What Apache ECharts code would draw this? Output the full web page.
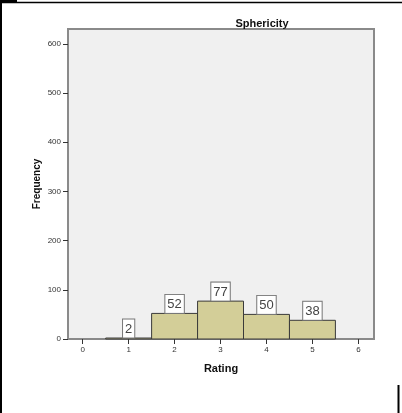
<!DOCTYPE html>
<html>
<head>
<meta charset="utf-8">
<script src="https://cdn.jsdelivr.net/npm/echarts@6/dist/echarts.min.js"></script>
<style>
  html, body { margin: 0; padding: 0; background: #fff; }
  #main { width: 402px; height: 413px; }
</style>
</head>
<body>
<div id="main"></div>
<script>
// histogram data
var ratings = [1, 2, 3, 4, 5];
var counts = [2, 52, 77, 50, 38];
var yTicks = [0, 100, 200, 300, 400, 500, 600];
var xTicks = [0, 1, 2, 3, 4, 5, 6];

var myChart = echarts.init(document.getElementById('main'));

var font = 'Liberation Sans, Arial, sans-serif';

var option = {
  backgroundColor: '#fff',
  animation: false,
  title: {
    text: 'Sphericity',
    left: 257,
    top: 13,
    textAlign: 'center',
    textStyle: { fontFamily: font, fontSize: 11, fontWeight: 'bold', color: '#111' }
  },
  grid: {
    left: 68, right: 28, top: 29, bottom: 74,
    show: true,
    backgroundColor: '#f0f0f0',
    borderColor: '#8a8a8a',
    borderWidth: 2
  },
  xAxis: {
    type: 'value',
    min: -0.32,
    max: 6.34,
    name: 'Rating',
    nameLocation: 'middle',
    nameGap: 24,
    nameTextStyle: { fontFamily: font, fontSize: 11, fontWeight: 'bold', color: '#111' },
    splitLine: { show: false },
    axisLine: { show: false, onZero: false },
    axisTick: { show: true, length: 5, customValues: xTicks, lineStyle: { color: '#333' } },
    axisLabel: { customValues: xTicks, fontFamily: font, fontSize: 8, color: '#333', margin: 7 }
  },
  yAxis: {
    type: 'value',
    min: 0,
    max: 630,
    splitLine: { show: false },
    axisLine: { show: false, onZero: false },
    axisTick: { show: true, length: 5, customValues: yTicks, lineStyle: { color: '#333' } },
    axisLabel: { customValues: yTicks, fontFamily: font, fontSize: 8, color: '#333', margin: 7 }
  },
  series: [{
    type: 'custom',
    data: ratings.map(function (r, i) { return [r, counts[i]]; }),
    renderItem: function (params, api) {
      var x = api.value(0), y = api.value(1);
      var p0 = api.coord([x - 0.5, y]);
      var p1 = api.coord([x + 0.5, 0]);
      return {
        type: 'rect',
        shape: { x: p0[0], y: p0[1], width: p1[0] - p0[0], height: p1[1] - p0[1] },
        style: { fill: '#d3ce98', stroke: '#3a3a3a', lineWidth: 1 },
        textContent: {
          style: {
            text: String(y),
            fontFamily: font,
            fontSize: 13,
            fill: '#444',
            backgroundColor: '#fff',
            borderColor: '#777',
            borderWidth: 1,
            padding: [3, 2, 2, 2]
          }
        },
        textConfig: { position: 'top', distance: 0 }
      };
    }
  }],
  graphic: [
    { type: 'rect', shape: { x: 0, y: 0, width: 17, height: 3 }, style: { fill: '#000' } },
    { type: 'line', shape: { x1: 0, y1: 2.5, x2: 402, y2: 2.5 }, style: { stroke: '#000', lineWidth: 1.5 } },
    { type: 'line', shape: { x1: 1, y1: 0, x2: 1, y2: 413 }, style: { stroke: '#000', lineWidth: 2 } },
    { type: 'line', shape: { x1: 398.5, y1: 385, x2: 398.5, y2: 413 }, style: { stroke: '#000', lineWidth: 2 } },
    // y axis title
    {
      type: 'text', x: 37, y: 184, rotation: Math.PI / 2,
      style: {
        text: 'Frequency', fontFamily: font, fontSize: 10, fontWeight: 'bold', fill: '#111',
        align: 'center', verticalAlign: 'middle'
      }
    }
  ]
};

myChart.setOption(option);
</script>
</body>
</html>
